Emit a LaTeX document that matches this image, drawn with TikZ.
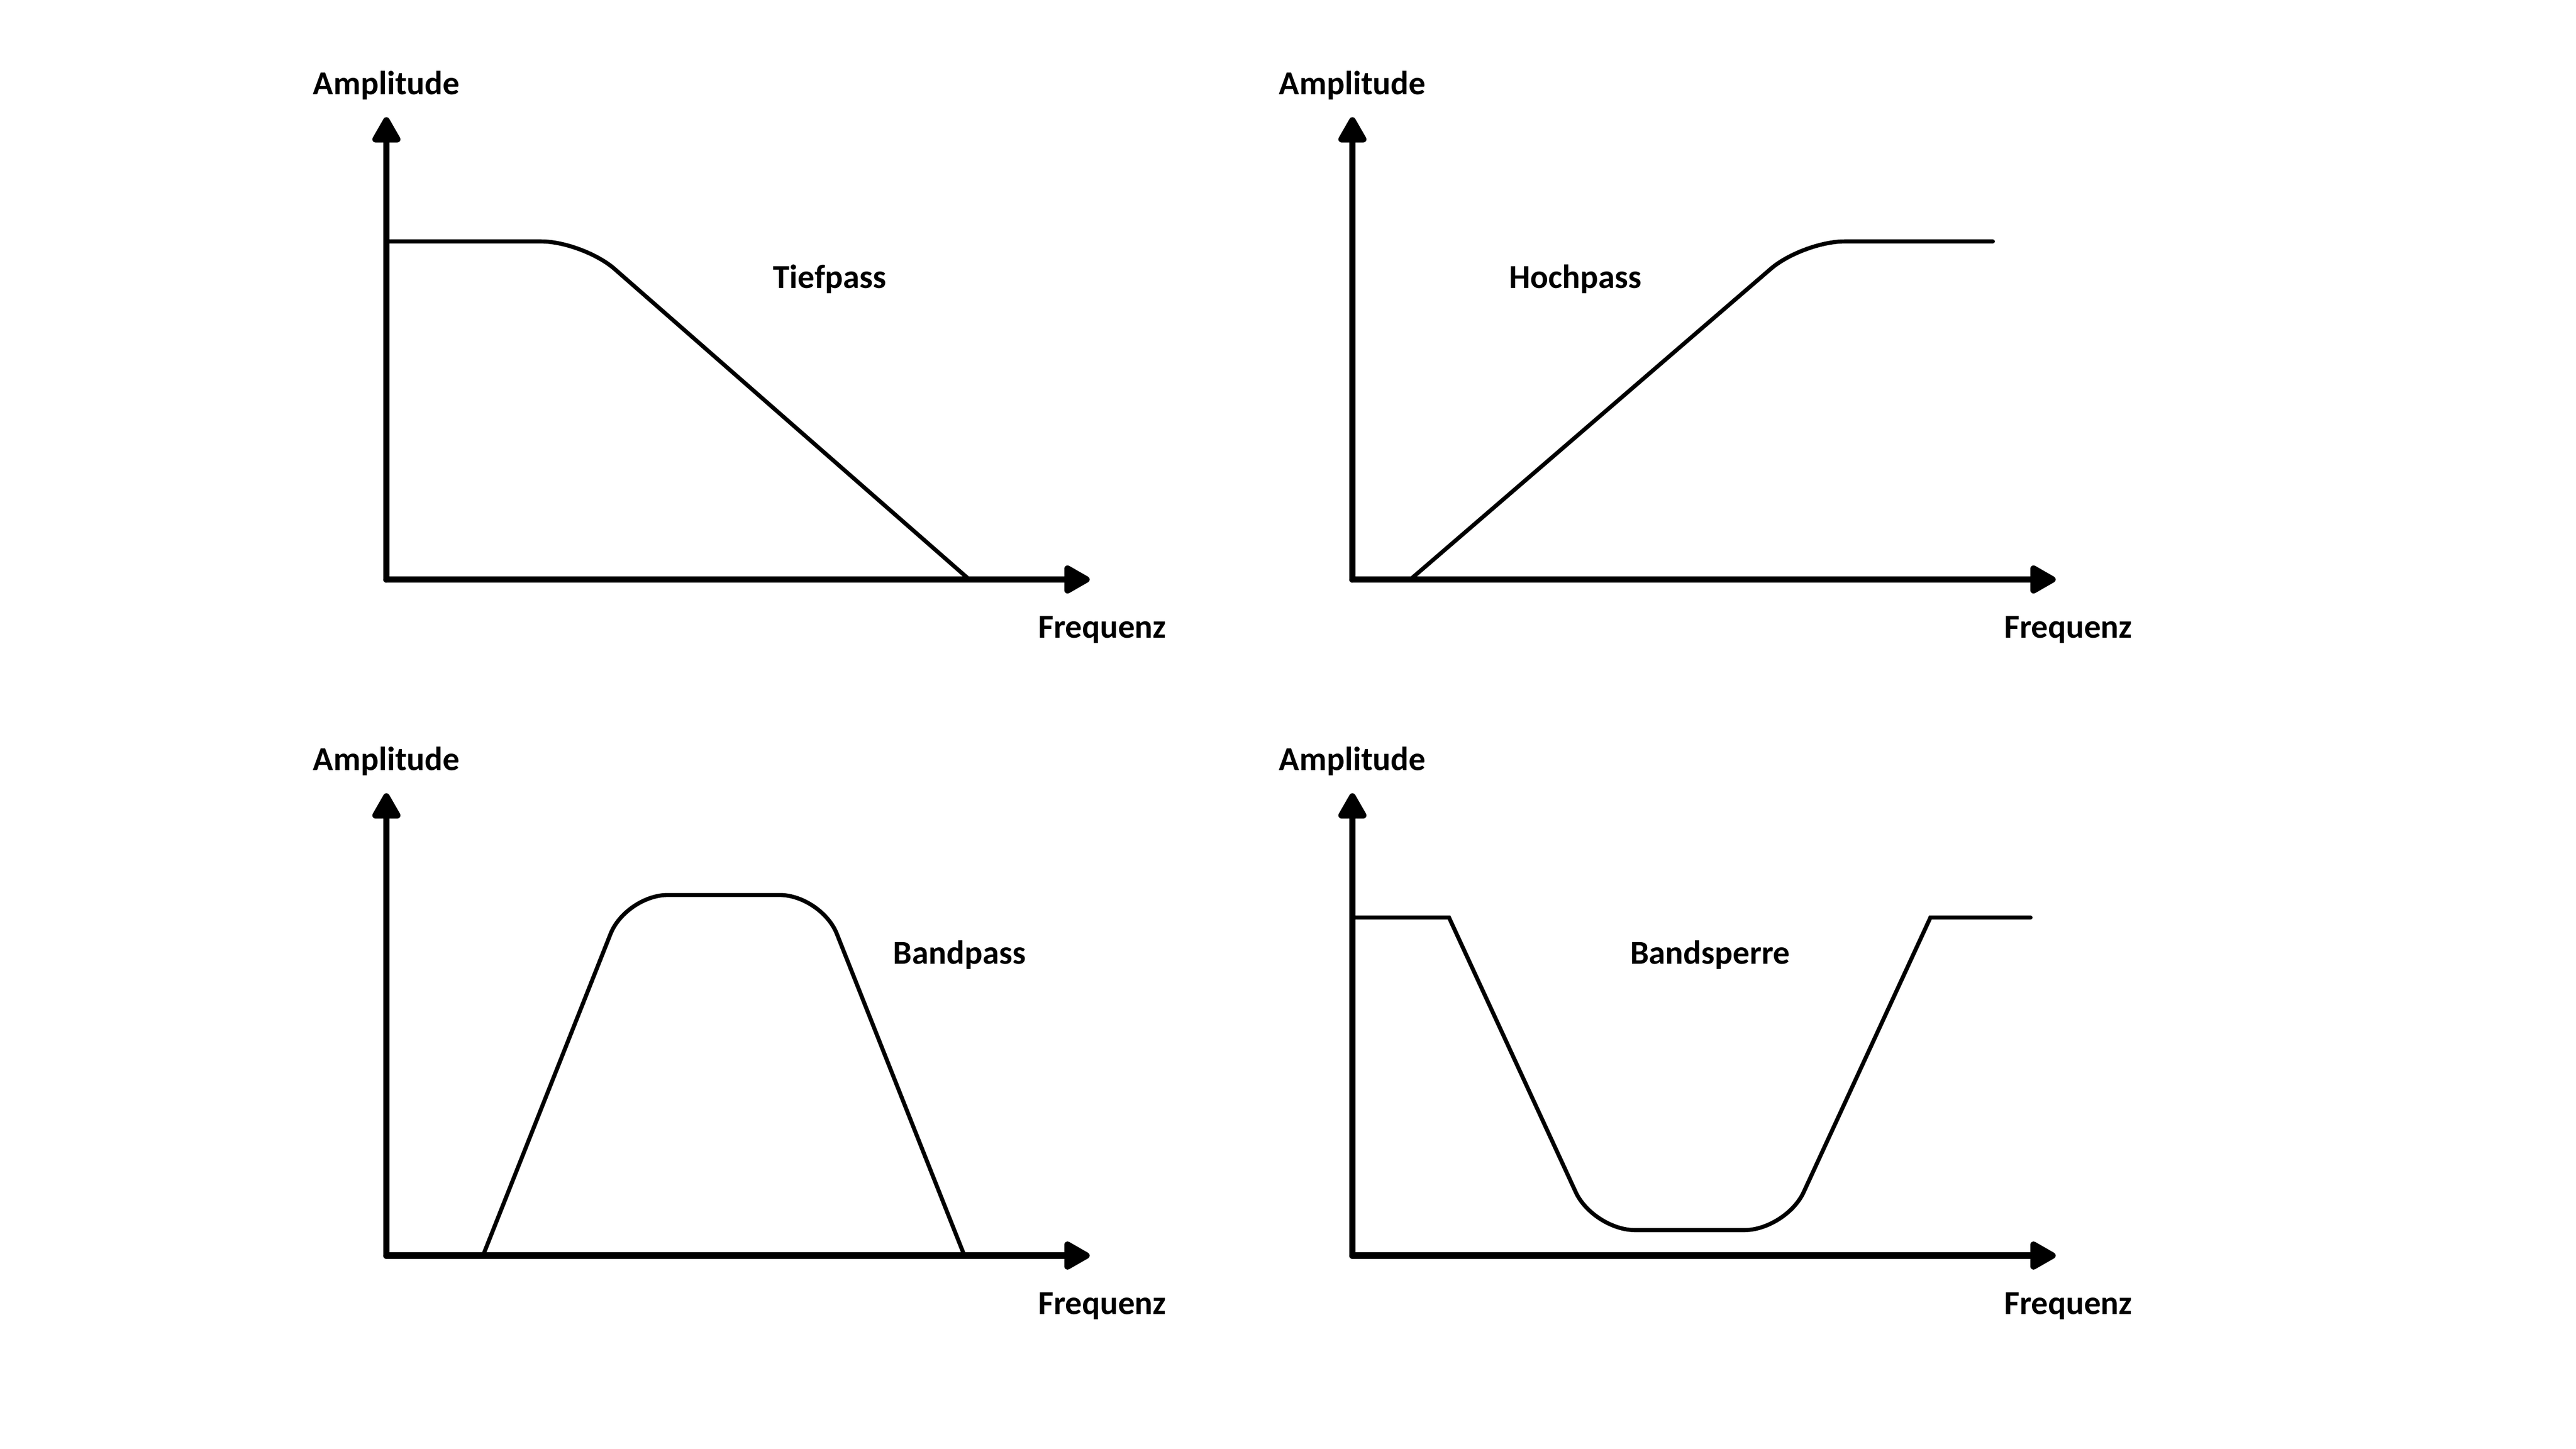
\documentclass[tikz,border=0pt]{standalone}
\usepackage{fontspec}
\setmainfont{Carlito}
\usetikzlibrary{arrows.meta}
\tikzset{achse/.style = {line width = 2.85pt, line cap = round, -{Triangle[length = 4.5mm, width = 4.8mm, round]}}}
\tikzset{kurve/.style = {line width = 1.8pt, line cap = round, rounded corners = 6.5mm}}
\tikzset{txt/.style = {anchor = base, inner sep = 0, font = \fontsize{14.8}{17}\selectfont\bfseries}}

\begin{document}
\begin{tikzpicture}
  \useasboundingbox (0, 0) rectangle (40, 22.5);

  % axes of the four panels
  \foreach \px/\py/\p in {6/13.5/tl, 21/13.5/tr, 6/3/bl, 21/3/br} {
    \begin{scope}[shift = {(\px, \py)}]
      \coordinate (\p-o) at (0, 0);
      \coordinate (\p-y) at (0, 7.18);
      \coordinate (\p-x) at (10.92, 0);
      \draw [achse] (\p-o) -- (\p-y);
      \draw [achse] (\p-o) -- (\p-x);
      \node [txt] (\p-amp) at (0, 7.535) {Amplitude};
      \node [txt] (\p-freq) at (11.115, -0.91) {Frequenz};
    \end{scope}
  }

  \begin{scope}[shift = {(6, 13.5)}]
    \draw [kurve] (0, 5.25) -- (3.055, 5.25) -- (9.05, 0);
    \node [txt] (tiefpass) at (6.885, 4.525) {Tiefpass};
  \end{scope}

  \begin{scope}[shift = {(21, 13.5)}]
    \draw [kurve] (0.9, 0) -- (6.99, 5.25) -- (9.945, 5.25);
    \node [txt] (hochpass) at (3.465, 4.525) {Hochpass};
  \end{scope}

  \begin{scope}[shift = {(6, 3)}]
    \draw [kurve] (1.5, 0) -- (3.72, 5.6) -- (6.755, 5.6) -- (8.975, 0);
    \node [txt] (bandpass) at (8.9, 4.525) {Bandpass};
  \end{scope}

  \begin{scope}[shift = {(21, 3)}]
    \draw [kurve, sharp corners] (0, 5.25) -- (1.5, 5.25) [rounded corners = 6.5mm] -- (3.74, 0.395)
      -- (6.735, 0.395) [sharp corners] -- (8.975, 5.25) -- (10.53, 5.25);
    \node [txt] (bandsperre) at (5.555, 4.525) {Bandsperre};
  \end{scope}
\end{tikzpicture}
\end{document}
